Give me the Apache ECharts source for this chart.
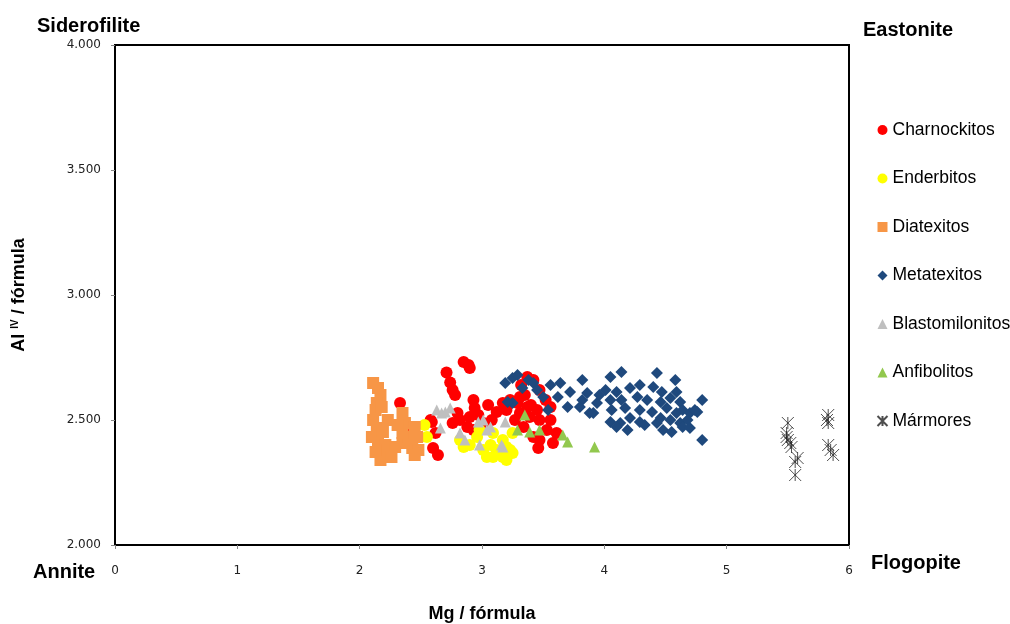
<!DOCTYPE html>
<html>
<head>
<meta charset="utf-8">
<script src="https://cdn.jsdelivr.net/npm/echarts@6/dist/echarts.min.js"></script>
<style>
  html, body { margin: 0; padding: 0; background: #fff; }
  #chart { width: 1010px; height: 624px; }
</style>
</head>
<body>
<div id="chart"></div>
<script>
// data: [Mg / formula, Al IV / formula]
const charnockitos = [
    [2.33, 2.568], [2.40, 2.452], [2.58, 2.500], [2.59, 2.492], [2.62, 2.448], [2.60, 2.388],
    [2.64, 2.360], [2.71, 2.690], [2.74, 2.650], [2.76, 2.620], [2.78, 2.600], [2.85, 2.732],
    [2.89, 2.720], [2.90, 2.708], [2.93, 2.580], [2.94, 2.548], [2.97, 2.520], [2.90, 2.512],
    [2.82, 2.500], [2.76, 2.488], [2.80, 2.528], [2.88, 2.472], [2.93, 2.460], [3.01, 2.488],
    [3.12, 2.532], [3.17, 2.568], [3.23, 2.580], [3.29, 2.568], [3.31, 2.528], [3.20, 2.540],
    [3.31, 2.592], [3.34, 2.472], [3.37, 2.672], [3.42, 2.660], [3.47, 2.620], [3.37, 2.552],
    [3.45, 2.540], [3.39, 2.512], [3.47, 2.500], [3.56, 2.500], [3.53, 2.460], [3.61, 2.448],
    [3.47, 2.420], [3.42, 2.432], [3.58, 2.408], [3.46, 2.388], [3.56, 2.552], [3.05, 2.560],
    [3.08, 2.500], [3.27, 2.500], [3.52, 2.580], [3.32, 2.640], [3.40, 2.560], [3.35, 2.600]
];
const enderbitos = [
    [2.53, 2.480], [2.55, 2.432], [2.82, 2.420], [2.85, 2.392], [2.96, 2.432], [3.01, 2.380],
    [3.04, 2.352], [3.12, 2.380], [3.17, 2.420], [3.23, 2.380], [3.20, 2.340], [3.09, 2.352],
    [3.09, 2.448], [3.25, 2.448], [3.20, 2.392], [3.25, 2.368], [3.17, 2.352], [2.90, 2.400],
    [2.98, 2.460], [3.07, 2.400]
];
const diatexitos = [
    [2.11, 2.648], [2.15, 2.628], [2.17, 2.600], [2.14, 2.568], [2.13, 2.540], [2.18, 2.552],
    [2.11, 2.500], [2.14, 2.468], [2.10, 2.432], [2.15, 2.420], [2.21, 2.400], [2.18, 2.372],
    [2.17, 2.340], [2.23, 2.380], [2.29, 2.392], [2.35, 2.408], [2.43, 2.388], [2.48, 2.380],
    [2.47, 2.432], [2.40, 2.432], [2.35, 2.448], [2.37, 2.488], [2.35, 2.528], [2.45, 2.472],
    [2.23, 2.500], [2.19, 2.452], [2.26, 2.352], [2.45, 2.360], [2.13, 2.372], [2.31, 2.480]
];
const metatexitos = [
    [3.19, 2.648], [3.25, 2.668], [3.29, 2.680], [3.38, 2.660], [3.42, 2.648], [3.45, 2.620],
    [3.50, 2.592], [3.64, 2.648], [3.62, 2.592], [3.70, 2.552], [3.54, 2.540], [3.25, 2.568],
    [3.21, 2.572], [3.72, 2.612], [3.33, 2.628], [3.56, 2.640], [3.82, 2.660], [3.86, 2.608],
    [3.82, 2.580], [3.88, 2.528], [3.80, 2.552], [4.05, 2.672], [4.14, 2.692], [4.01, 2.620],
    [4.10, 2.612], [4.21, 2.628], [3.94, 2.568], [4.05, 2.580], [4.14, 2.580], [4.27, 2.592],
    [3.91, 2.528], [4.06, 2.540], [4.17, 2.548], [4.05, 2.492], [4.13, 2.488], [4.21, 2.508],
    [4.29, 2.492], [4.10, 2.472], [4.29, 2.540], [3.96, 2.600], [4.19, 2.460], [4.43, 2.688],
    [4.29, 2.640], [4.40, 2.632], [4.47, 2.612], [4.59, 2.612], [4.35, 2.580], [4.46, 2.572],
    [4.54, 2.588], [4.62, 2.572], [4.39, 2.532], [4.51, 2.548], [4.59, 2.528], [4.43, 2.488],
    [4.54, 2.500], [4.62, 2.488], [4.33, 2.480], [4.48, 2.460], [4.55, 2.452], [4.64, 2.540],
    [4.70, 2.528], [4.76, 2.532], [4.68, 2.500], [4.64, 2.472], [4.70, 2.468], [4.80, 2.580],
    [4.80, 2.420], [4.74, 2.540], [4.58, 2.660], [4.46, 2.508]
];
const blastomilonitos = [
    [2.63, 2.540], [2.67, 2.528], [2.70, 2.532], [2.66, 2.468], [2.82, 2.448], [2.86, 2.420],
    [2.97, 2.492], [3.01, 2.500], [3.04, 2.460], [3.07, 2.472], [2.98, 2.400], [3.16, 2.400],
    [3.19, 2.492], [3.17, 2.392], [2.74, 2.548]
];
const anfibolitos = [
    [3.35, 2.520], [3.29, 2.460], [3.39, 2.452], [3.47, 2.460], [3.66, 2.440], [3.70, 2.412],
    [3.92, 2.392]
];
const marmores = [
    [5.50, 2.488], [5.49, 2.448], [5.49, 2.432], [5.50, 2.420], [5.52, 2.408], [5.53, 2.392],
    [5.58, 2.348], [5.56, 2.332], [5.56, 2.280], [5.83, 2.520], [5.82, 2.500], [5.83, 2.488],
    [5.83, 2.400], [5.85, 2.380], [5.87, 2.360]
];

const starSymbol = 'path://M0,0L10,10M10,0L0,10M5,0L5,10';
const FONT = 'Liberation Sans, Arial, sans-serif';
const TICK_FONT = 'DejaVu Sans, Verdana, sans-serif';

var chart = echarts.init(document.getElementById('chart'));

function makeSeries(name, data, symbol, size, color) {
    var s = {
        name: name,
        type: 'scatter',
        data: data,
        symbol: symbol,
        symbolSize: size,
        itemStyle: { color: color, opacity: 1 },
        emphasis: { disabled: true }
    };
    if (symbol === starSymbol) {
        s.itemStyle = { color: 'none', borderColor: '#222', borderWidth: 1 };
    }
    return s;
}

option = {
    animation: false,
    backgroundColor: '#fff',
    textStyle: { fontFamily: FONT },
    grid: {
        left: 115, right: 161, top: 45, bottom: 79,
        outerBoundsMode: 'none',
        containLabel: false,
        show: true, borderColor: '#000', borderWidth: 2
    },
    legend: {
        orient: 'vertical',
        left: 870,
        top: 116,
        itemGap: 30.5,
        itemWidth: 10,
        itemHeight: 10,
        textStyle: { fontSize: 17.5, color: '#000', fontFamily: FONT },
        data: ['Charnockitos', 'Enderbitos', 'Diatexitos', 'Metatexitos', 'Blastomilonitos', 'Anfibolitos', 'Mármores']
    },
    xAxis: {
        type: 'value',
        min: 0, max: 6, interval: 1,
        name: 'Mg / fórmula',
        nameLocation: 'middle',
        nameGap: 60,
        nameTextStyle: { fontSize: 18, fontWeight: 'bold', color: '#000' },
        axisLine: { show: true, lineStyle: { color: '#000', width: 2 } },
        axisTick: { show: true, length: 4, lineStyle: { color: '#888' } },
        axisLabel: { fontSize: 12, color: '#222', margin: 20, fontFamily: TICK_FONT },
        splitLine: { show: false }
    },
    yAxis: {
        type: 'value',
        min: 2, max: 4, interval: 0.5,
        name: '{a|Al }{s|IV}{a| / fórmula}',
        nameLocation: 'middle',
        nameGap: 86,
        nameTextStyle: {
            rich: {
                a: { fontSize: 18, fontWeight: 'bold', color: '#000' },
                s: { fontSize: 10, fontWeight: 'bold', color: '#000', verticalAlign: 'top', padding: [0, 0, 9, 0] }
            }
        },
        axisLine: { show: true, lineStyle: { color: '#000', width: 2 } },
        axisTick: { show: true, length: 4, lineStyle: { color: '#888' } },
        axisLabel: {
            fontSize: 12, color: '#222', margin: 14, fontFamily: TICK_FONT,
            formatter: function(v) { return v.toFixed(3); }
        },
        splitLine: { show: false }
    },
    graphic: [
        { type: 'text', left: 37, top: 16, style: { text: 'Siderofilite', font: 'bold 20px ' + FONT, fill: '#000' } },
        { type: 'text', left: 863, top: 20, style: { text: 'Eastonite', font: 'bold 20px ' + FONT, fill: '#000' } },
        { type: 'text', left: 33, top: 562, style: { text: 'Annite', font: 'bold 20px ' + FONT, fill: '#000' } },
        { type: 'text', left: 871, top: 553, style: { text: 'Flogopite', font: 'bold 20px ' + FONT, fill: '#000' } }
    ],
    series: [
        makeSeries('Charnockitos', charnockitos, 'circle', 12, '#FF0000'),
        makeSeries('Enderbitos', enderbitos, 'circle', 12, '#FFFF00'),
        makeSeries('Diatexitos', diatexitos, 'rect', 12, '#F79646'),
        makeSeries('Metatexitos', metatexitos, 'diamond', 12, '#1F497D'),
        makeSeries('Blastomilonitos', blastomilonitos, 'triangle', 11, '#BFBFBF'),
        makeSeries('Anfibolitos', anfibolitos, 'triangle', 11, '#92C84E'),
        makeSeries('Mármores', marmores, starSymbol, 12, '#222')
    ]
};

chart.setOption(option);
</script>
</body>
</html>
